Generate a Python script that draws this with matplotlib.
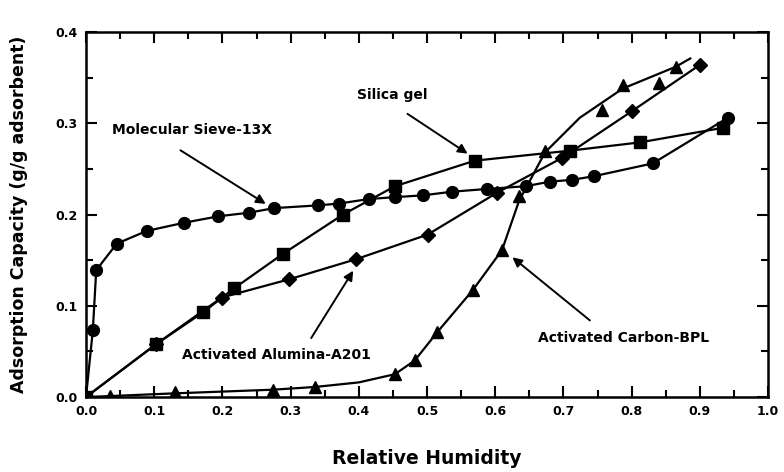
import numpy as np
import matplotlib
matplotlib.use('Agg')
import matplotlib.pyplot as plt
from matplotlib.ticker import MultipleLocator

plt.rcParams['font.family'] = ['DejaVu Sans']
plt.rcParams['font.weight'] = 'bold'

# Molecular Sieve-13X (circles)
sieve_x = [0.0, 0.010, 0.015, 0.045, 0.089, 0.144, 0.194, 0.239, 0.276, 0.340, 0.371,
           0.415, 0.453, 0.494, 0.537, 0.588, 0.645, 0.680, 0.713, 0.745, 0.831, 0.941]
sieve_y = [0.0, 0.073, 0.139, 0.168, 0.182, 0.191, 0.198, 0.202, 0.207, 0.210, 0.212,
           0.217, 0.219, 0.221, 0.225, 0.228, 0.231, 0.236, 0.238, 0.242, 0.256, 0.306]

# Silica gel (squares)
silica_x = [0.0, 0.103, 0.172, 0.217, 0.289, 0.377, 0.453, 0.570, 0.710, 0.812, 0.934]
silica_y = [0.0, 0.058, 0.093, 0.119, 0.157, 0.200, 0.231, 0.259, 0.270, 0.279, 0.295]

# Activated Alumina-A201 (diamonds)
alumina_x = [0.0, 0.103, 0.199, 0.298, 0.396, 0.501, 0.603, 0.698, 0.800, 0.900]
alumina_y = [0.0, 0.058, 0.109, 0.129, 0.151, 0.178, 0.224, 0.262, 0.313, 0.364]

# Activated Carbon-BPL (triangles) - measured points
carbon_x = [0.0, 0.035, 0.130, 0.274, 0.336, 0.453, 0.482, 0.515, 0.567, 0.610,
            0.635, 0.673, 0.757, 0.787, 0.840, 0.865]
carbon_y = [0.0, 0.001, 0.006, 0.008, 0.011, 0.025, 0.040, 0.071, 0.117, 0.161,
            0.220, 0.270, 0.315, 0.342, 0.344, 0.362]
# smooth curve drawn through the carbon data
carbon_cx = [0.0, 0.035, 0.130, 0.274, 0.336, 0.400, 0.453, 0.482, 0.515, 0.567,
             0.610, 0.635, 0.673, 0.724, 0.787, 0.865, 0.886]
carbon_cy = [0.0, 0.001, 0.004, 0.008, 0.011, 0.016, 0.025, 0.040, 0.071, 0.117,
             0.161, 0.215, 0.268, 0.306, 0.338, 0.362, 0.371]

fig = plt.figure(figsize=(7.84, 4.72), dpi=100)
ax = fig.add_axes([0.1097, 0.1589, 0.8699, 0.7733])

ax.plot(sieve_x, sieve_y, 'k-', lw=1.6, marker='o', ms=8.5)
ax.plot(silica_x, silica_y, 'k-', lw=1.6, marker='s', ms=8)
ax.plot(alumina_x, alumina_y, 'k-', lw=1.6, marker='D', ms=7.5)
ax.plot(carbon_cx, carbon_cy, 'k-', lw=1.6)
ax.plot(carbon_x, carbon_y, 'k^', ms=8.5)

ax.set_xlim(0, 1.0)
ax.set_ylim(0, 0.4)
ax.xaxis.set_major_locator(MultipleLocator(0.1))
ax.xaxis.set_minor_locator(MultipleLocator(0.05))
ax.yaxis.set_major_locator(MultipleLocator(0.1))
ax.yaxis.set_minor_locator(MultipleLocator(0.05))
ax.tick_params(which='both', direction='in', top=True, right=True, width=1.5)
ax.tick_params(which='major', length=8, labelsize=9, pad=6)
ax.tick_params(which='minor', length=5)
ax.xaxis.set_major_formatter(plt.FormatStrFormatter('%.1f'))
ax.yaxis.set_major_formatter(plt.FormatStrFormatter('%.1f'))
for s in ax.spines.values():
    s.set_linewidth(1.8)

ax.set_xlabel('Relative Humidity', fontsize=13.5, fontweight='bold', labelpad=22)
ax.set_ylabel('Adsorption Capacity (g/g adsorbent)', fontsize=12.5, fontweight='bold', labelpad=20)

arr = dict(arrowstyle='-|>', color='k', lw=1.4, mutation_scale=14)
tfont = dict(fontsize=10, fontweight='bold', va='center', ha='left')
ax.text(0.038, 0.293, 'Molecular Sieve-13X', **tfont)
ax.annotate('', xy=(0.267, 0.210), xytext=(0.135, 0.272), arrowprops=arr)
ax.text(0.397, 0.331, 'Silica gel', **tfont)
ax.annotate('', xy=(0.563, 0.265), xytext=(0.468, 0.312), arrowprops=arr)
ax.text(0.141, 0.046, 'Activated Alumina-A201', **tfont)
ax.annotate('', xy=(0.394, 0.141), xytext=(0.328, 0.062), arrowprops=arr)
ax.text(0.663, 0.065, 'Activated Carbon-BPL', **tfont)
ax.annotate('', xy=(0.622, 0.155), xytext=(0.742, 0.082), arrowprops=arr)

fig.savefig('out.png', dpi=100)
